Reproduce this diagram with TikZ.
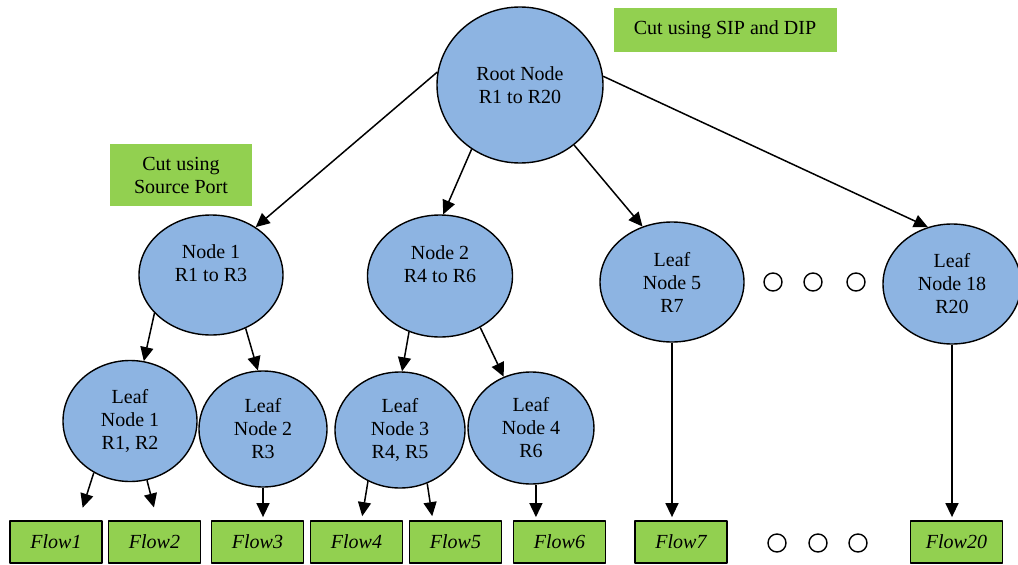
\documentclass[tikz,border=0pt]{standalone}
\usepackage{fontspec}
\setmainfont{Liberation Serif}
\usetikzlibrary{shapes.geometric,arrows.meta}
\definecolor{nodeblue}{RGB}{141,180,226}
\definecolor{cutgreen}{RGB}{146,208,80}
\begin{document}
\begin{tikzpicture}[x=1pt,y=-1pt,font=\fontsize{20}{23}\selectfont,line join=round,
	>={Triangle[length=14pt,width=13pt]},
	tnode/.style={ellipse,draw,line width=1.4pt,fill=nodeblue,align=center,inner sep=0pt},
	cutbox/.style={fill=cutgreen,align=center,inner sep=0pt},
	flowbox/.style={draw,line width=1.8pt,fill=cutgreen,minimum width=92pt,minimum height=42pt,inner sep=0pt,font=\fontsize{20}{23}\selectfont\itshape},
	gapdot/.style={circle,draw,line width=1.4pt,minimum size=18pt,inner sep=0pt},
	arr/.style={->,line width=1.5pt}]
	\useasboundingbox (0,0) rectangle (1018,565);
	% root and cut labels
	\node[tnode,minimum width=166pt,minimum height=156pt] (root) at (520,85) {Root Node\\R1 to R20};
	\node[cutbox,minimum width=223pt,minimum height=44pt] (cutsip) at (725,30) {Cut using SIP and DIP};
	\node[cutbox,minimum width=142pt,minimum height=62pt] (cutport) at (181,175) {Cut using\\Source Port};
	% second level
	\node[tnode,minimum width=144pt,minimum height=120pt] (n1) at (211,275) {Node 1\\R1 to R3\\\mbox{}};
	\node[tnode,minimum width=145pt,minimum height=122pt] (n2) at (440,276) {Node 2\\R4 to R6\\\mbox{}};
	\node[tnode,minimum width=144pt,minimum height=120pt] (lf5) at (672,282) {Leaf\\Node 5\\R7};
	\node[tnode,minimum width=138pt,minimum height=120pt] (lf18) at (952,284) {Leaf\\Node 18\\R20};
	% leaves
	\node[tnode,minimum width=134pt,minimum height=121pt] (lf1) at (130,421) {Leaf\\Node 1\\R1, R2};
	\node[tnode,minimum width=128pt,minimum height=116pt] (lf2) at (263,429) {Leaf\\Node 2\\R3};
	\node[tnode,minimum width=130pt,minimum height=116pt] (lf3) at (400,430) {Leaf\\Node 3\\R4, R5};
	\node[tnode,minimum width=126pt,minimum height=112pt] (lf4) at (531,428) {Leaf\\Node 4\\R6};
	% flows
	\foreach \n/\x in {1/56,2/154.5,3/257.5,4/356.5,5/455.5,6/559.5,7/681,20/956.5}
		\node[flowbox] (f\n) at (\x,542) {Flow\n};
	% dots
	\foreach \i/\x in {1/773,2/813,3/856} \node[gapdot] (dt\i) at (\x,282) {};
	\foreach \i/\x in {1/777,2/818,3/858} \node[gapdot] (db\i) at (\x,543) {};
	% arrows
	\draw[arr] (root.171) -- (n1.47);
	\draw[arr] (root.233) -- (n2.87);
	\draw[arr] (root.312) -- (lf5.118);
	\draw[arr] (root.6) -- (lf18.113);
	\draw[arr] (n1.214) -- (lf1.77);
	\draw[arr] (n1.303) -- (lf2.95);
	\draw[arr] (n2.241) -- (lf3.88);
	\draw[arr] (n2.308) -- (lf4.118);
	\draw[arr,shorten >=13pt] (lf1.235) -- (f1.44);
	\draw[arr,shorten >=13pt] (lf1.286) -- (f2.83);
	\draw[arr,shorten >=3pt] (lf2.south) -- (lf2.south |- f3.north);
	\draw[arr,shorten >=4pt] (lf3.238) -- (f4.77);
	\draw[arr,shorten >=4pt] (lf3.297) -- (f5.136);
	\draw[arr,shorten >=3pt] (lf4.-85) -- (lf4.-85 |- f6.north);
	\draw[arr,shorten >=3pt] (lf5.south) -- (lf5.south |- f7.north);
	\draw[arr,shorten >=3pt] (lf18.south) -- (lf18.south |- f20.north);
\end{tikzpicture}
\end{document}
